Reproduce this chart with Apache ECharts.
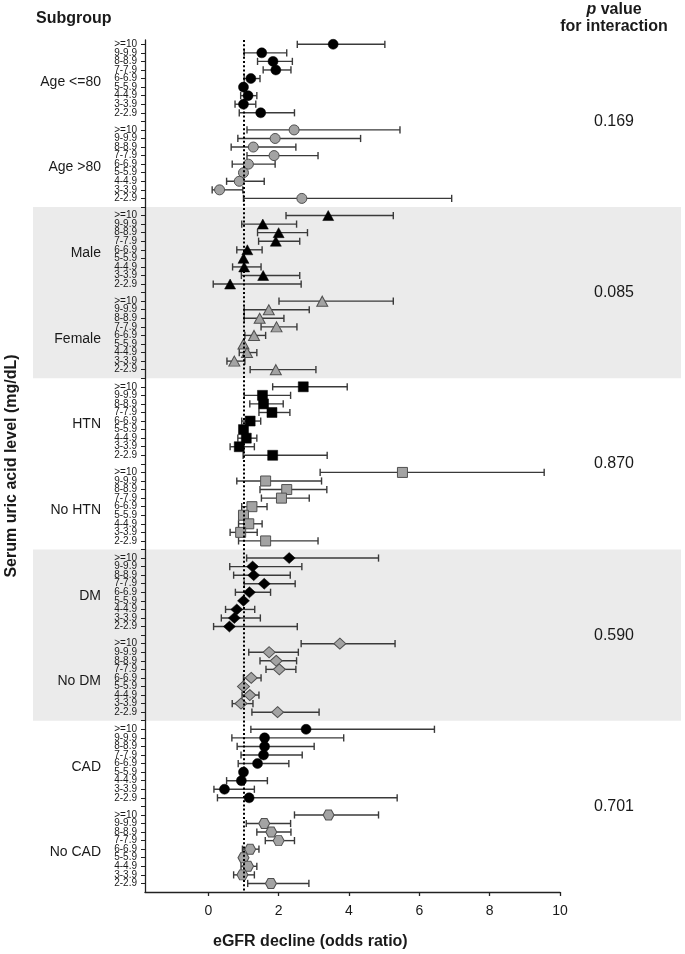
<!DOCTYPE html>
<html><head><meta charset="utf-8">
<script src="https://cdn.jsdelivr.net/npm/echarts@6/dist/echarts.min.js"></script>
<style>html,body{margin:0;padding:0;background:#fff}#c{width:685px;height:954px}</style>
</head><body><div id="c"></div>
<script>
// ---- data ----
const rowLabels = ['>=10','9-9.9','8-8.9','7-7.9','6-6.9','5-5.9','4-4.9','3-3.9','2-2.9'];
const groupNames = ['Age <=80','Age >80','Male','Female','HTN','No HTN','DM','No DM','CAD','No CAD'];
const pValues = ['0.169','0.085','0.870','0.590','0.701'];
const xTicks = [0, 2, 4, 6, 8, 10];
// each row: [odds ratio, lower CI, upper CI], in the order of rowLabels
const ageLe80 = [[3.55,2.53,5.02],[1.52,1.02,2.23],[1.84,1.40,2.39],[1.92,1.56,2.35],[1.21,1.02,1.47],[1.00,null,null],[1.13,0.92,1.38],[1.00,0.76,1.35],[1.49,0.88,2.45]];
const ageGt80 = [[2.44,1.10,5.45],[1.90,0.84,4.33],[1.28,0.65,2.49],[1.87,1.10,3.12],[1.14,0.68,1.90],[1.00,null,null],[0.88,0.52,1.59],[0.32,0.11,0.98],[2.66,1.00,6.92]];
const male    = [[3.41,2.21,5.26],[1.55,0.95,2.51],[2.00,1.40,2.82],[1.92,1.43,2.60],[1.11,0.81,1.53],[1.00,null,null],[1.02,0.69,1.50],[1.56,0.94,2.60],[0.62,0.14,2.64]];
const female  = [[3.24,2.01,5.26],[1.72,1.02,2.87],[1.46,1.02,2.15],[1.94,1.50,2.52],[1.30,1.04,1.63],[1.00,null,null],[1.10,0.88,1.38],[0.74,0.53,1.04],[1.92,1.19,3.06]];
const htn     = [[2.70,1.83,3.95],[1.54,1.02,2.34],[1.57,1.18,2.13],[1.81,1.44,2.32],[1.19,0.95,1.49],[1.00,null,null],[1.08,0.84,1.38],[0.88,0.62,1.31],[1.83,0.99,3.38]];
const noHtn   = [[5.52,3.18,9.55],[1.63,0.81,3.22],[2.23,1.47,3.37],[2.08,1.51,2.87],[1.24,0.95,1.67],[1.00,null,null],[1.15,0.86,1.53],[0.92,0.62,1.39],[1.63,0.86,3.12]];
const dm      = [[2.30,1.09,4.84],[1.26,0.61,2.66],[1.29,0.72,2.33],[1.59,1.02,2.47],[1.17,0.77,1.77],[1.00,null,null],[0.81,0.49,1.32],[0.74,0.37,1.48],[0.60,0.15,2.53]];
const noDm    = [[3.74,2.64,5.31],[1.73,1.15,2.56],[1.93,1.47,2.51],[2.02,1.64,2.49],[1.22,1.00,1.50],[1.00,null,null],[1.18,0.96,1.44],[0.93,0.68,1.27],[1.97,1.24,3.15]];
const cad     = [[2.78,1.21,6.43],[1.60,0.67,3.85],[1.60,0.82,3.01],[1.57,0.93,2.67],[1.40,0.85,2.29],[1.00,null,null],[0.94,0.52,1.68],[0.46,0.16,1.31],[1.16,0.26,5.37]];
const noCad   = [[3.42,2.45,4.84],[1.59,1.08,2.34],[1.79,1.38,2.35],[2.00,1.62,2.45],[1.19,0.97,1.44],[1.00,null,null],[1.13,0.93,1.38],[0.97,0.72,1.31],[1.78,1.12,2.86]];
const groupData = [ageLe80, ageGt80, male, female, htn, noHtn, dm, noDm, cad, noCad];

// ---- styles ----
const HEX = 'path://M-1,0 L-0.5,-0.87 L0.5,-0.87 L1,0 L0.5,0.87 L-0.5,0.87 Z';
const groupSymbols = ['circle','circle','triangle','triangle','rect','rect','diamond','diamond','circle',HEX];
const groupSizes = [10,10,[11,10],[11,10],[10,10],[10,10],[12,11],[12,11],10,[11,10]];
const groupDark = [true,false,true,false,true,false,true,false,true,false];
const FONT = 'Liberation Sans, Arial, sans-serif';
const SLOT = 10; // rows per group incl. one blank

const chart = echarts.init(document.getElementById('c'), null, {renderer:'canvas'});

const tickVals = [];
for (let i = 0; i < groupNames.length * SLOT - 1; i++) tickVals.push(i);
const labelVals = tickVals.filter(v => v % SLOT < rowLabels.length);

const errData = [];
groupData.forEach((rows, g) => rows.forEach((r, i) => {
  if (r[1] != null) errData.push([r[1], r[2], g * SLOT + i]);
}));

const series = [{
  type: 'custom',
  z: 2,
  data: errData,
  encode: {x: [0, 1], y: 2},
  renderItem(params, api) {
    const y = api.value(2);
    const a = api.coord([api.value(0), y]);
    const b = api.coord([api.value(1), y]);
    const h = 3.6;
    const st = {stroke: '#3a3a3a', lineWidth: 1.4};
    return {type: 'group', children: [
      {type: 'line', shape: {x1: a[0], y1: a[1], x2: b[0], y2: b[1]}, style: st},
      {type: 'line', shape: {x1: a[0], y1: a[1] - h, x2: a[0], y2: a[1] + h}, style: st},
      {type: 'line', shape: {x1: b[0], y1: b[1] - h, x2: b[0], y2: b[1] + h}, style: st}
    ]};
  },
  markLine: {
    silent: true, symbol: 'none', label: {show: false},
    lineStyle: {type: [2, 2.2], color: '#000', width: 2},
    data: [{xAxis: 1}]
  }
}];
groupData.forEach((rows, g) => {
  series.push({
    type: 'scatter', z: 3,
    symbol: groupSymbols[g],
    symbolSize: groupSizes[g],
    itemStyle: groupDark[g]
      ? {color: '#000', borderColor: '#000', borderWidth: 0.5, opacity: 1}
      : {color: '#a3a3a3', borderColor: '#505050', borderWidth: 1, opacity: 1},
    data: rows.map((r, i) => [r[0], g * SLOT + i])
  });
});

chart.setOption({
  animation: false,
  backgroundColor: '#fff',
  grid: {left: 145, right: 125, top: 40, bottom: 62, containLabel: false, outerBoundsMode: 'none'},
  xAxis: {
    type: 'value', min: -1.8, max: 10,
    axisLine: {show: true, onZero: false, lineStyle: {color: '#222', width: 1.3}},
    axisTick: {show: true, length: 4, customValues: xTicks, lineStyle: {color: '#222', width: 1.3}},
    axisLabel: {customValues: xTicks, margin: 12, fontSize: 14, fontFamily: FONT, color: '#1a1a1a'},
    splitLine: {show: false}
  },
  yAxis: {
    type: 'value', inverse: true, min: -0.5, max: 99,
    name: 'Serum uric acid level (mg/dL)', nameLocation: 'middle', nameGap: 125,
    nameTextStyle: {fontSize: 16, fontWeight: 'bold', fontFamily: FONT, color: '#1a1a1a'},
    axisLine: {show: true, onZero: false, lineStyle: {color: '#222', width: 1.3}},
    axisTick: {show: true, length: 4, customValues: tickVals, lineStyle: {color: '#222', width: 1}},
    axisLabel: {show: false},
    splitLine: {show: false}
  },
  series
});

// ---- annotations placed via the axis scales ----
const px = (x, y) => chart.convertToPixel({gridIndex: 0}, [x, y]);
const gridLeft = px(-1.8, 0)[0];
const gr = [];
[[19, 39], [59, 79]].forEach(([a, b]) => {
  const ya = px(0, a)[1], yb = px(0, b)[1];
  gr.push({type: 'rect', z: -10, shape: {x: 33, y: ya, width: 648, height: yb - ya},
    style: {fill: '#ebebeb'}, silent: true});
});
// row (category) labels of the y axis, one per tick that has a row
labelVals.forEach(v => {
  const y = px(0, v)[1];
  gr.push({type: 'text', z: 5, x: gridLeft - 8, y: y,
    style: {text: rowLabels[v % SLOT], fill: '#1a1a1a', font: '10px ' + FONT, textAlign: 'right', textVerticalAlign: 'middle'}});
});
groupNames.forEach((name, g) => {
  const y = px(0, g * SLOT + 4.4)[1];
  gr.push({type: 'text', z: 5, x: 101, y: y,
    style: {text: name, fill: '#1a1a1a', font: '14px ' + FONT, textAlign: 'right', textVerticalAlign: 'middle'}});
});
pValues.forEach((p, k) => {
  const y = px(0, k * 2 * SLOT + 9)[1];
  gr.push({type: 'text', z: 5, x: 614, y: y,
    style: {text: p, fill: '#1a1a1a', font: '16px ' + FONT, textAlign: 'center', textVerticalAlign: 'middle'}});
});
gr.push({type: 'text', z: 5, x: 36, y: 19,
  style: {text: 'Subgroup', fill: '#1a1a1a', font: 'bold 16px ' + FONT, textAlign: 'left', textVerticalAlign: 'middle'}});
gr.push({type: 'text', z: 5, x: 614, y: 10,
  style: {text: '{i|p} value', rich: {i: {fontStyle: 'italic', fontWeight: 'bold', fontSize: 16, fontFamily: FONT, fill: '#1a1a1a'}},
    fill: '#1a1a1a', font: 'bold 16px ' + FONT, textAlign: 'center', textVerticalAlign: 'middle'}});
gr.push({type: 'text', z: 5, x: 614, y: 27,
  style: {text: 'for interaction', fill: '#1a1a1a', font: 'bold 16px ' + FONT, textAlign: 'center', textVerticalAlign: 'middle'}});
gr.push({type: 'text', z: 5, x: 213, y: 942,
  style: {text: 'eGFR decline (odds ratio)', fill: '#1a1a1a', font: 'bold 16px ' + FONT, textAlign: 'left', textVerticalAlign: 'middle'}});
chart.setOption({graphic: {elements: gr}});
</script>
</body></html>
